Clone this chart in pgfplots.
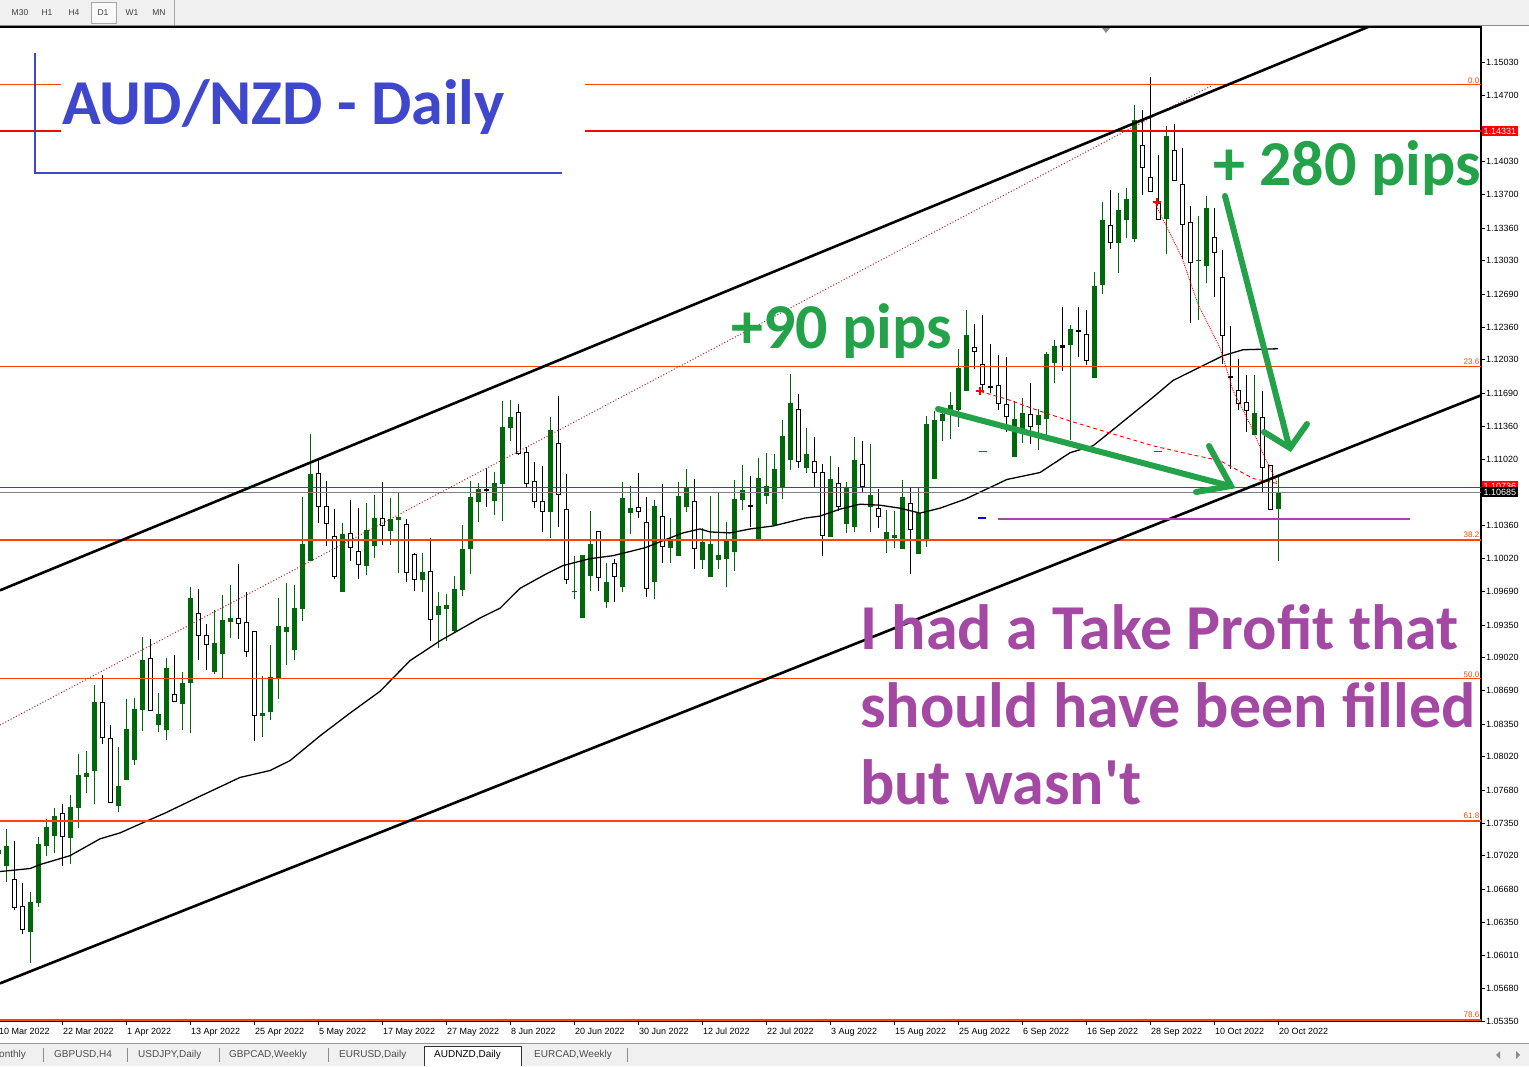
\documentclass[border=0pt]{standalone}
\usepackage{fontspec}
\setmainfont{Liberation Sans}
\newfontfamily\calibri{Carlito}
\usepackage{pgfplots}
\usepackage{pgfplotstable}
\pgfplotsset{compat=1.18}
\definecolor{cgreen}{RGB}{0,104,10}
\definecolor{fibc}{RGB}{255,69,0}
\definecolor{annGreen}{RGB}{36,162,74}
\definecolor{annPurple}{RGB}{163,73,164}
\definecolor{titleBlue}{RGB}{63,72,204}
\definecolor{tbgray}{RGB}{240,240,240}
\definecolor{fibdot}{RGB}{178,34,34}

\pgfplotstableread{
x o h l c
0 1.0704 1.0722 1.0697 1.0708
1 1.0692 1.0729 1.0675 1.0712
2 1.0678 1.0717 1.0647 1.0650
3 1.0651 1.0674 1.0623 1.0627
4 1.0625 1.0665 1.0594 1.0655
5 1.0654 1.0721 1.0650 1.0714
6 1.0712 1.0739 1.0702 1.0731
7 1.0722 1.0750 1.0705 1.0742
8 1.0745 1.0754 1.0692 1.0721
9 1.0720 1.0763 1.0694 1.0751
10 1.0750 1.0805 1.0730 1.0783
11 1.0781 1.0808 1.0765 1.0786
12 1.0788 1.0874 1.0754 1.0857
13 1.0857 1.0884 1.0815 1.0821
14 1.0820 1.0834 1.0755 1.0756
15 1.0752 1.0812 1.0746 1.0772
16 1.0778 1.0860 1.0778 1.0830
17 1.0799 1.0861 1.0794 1.0850
18 1.0849 1.0923 1.0828 1.0900
19 1.0901 1.0921 1.0848 1.0849
20 1.0834 1.0866 1.0827 1.0845
21 1.0829 1.0902 1.0819 1.0892
22 1.0865 1.0905 1.0857 1.0858
23 1.0855 1.0888 1.0829 1.0876
24 1.0876 1.0973 1.0826 1.0962
25 1.0947 1.0971 1.0900 1.0924
26 1.0924 1.0936 1.0890 1.0915
27 1.0888 1.0950 1.0886 1.0917
28 1.0906 1.0965 1.0881 1.0940
29 1.0938 1.0975 1.0922 1.0942
30 1.0942 1.0997 1.0921 1.0937
31 1.0938 1.0968 1.0903 1.0908
32 1.0928 1.0929 1.0818 1.0844
33 1.0843 1.0883 1.0822 1.0846
34 1.0847 1.0915 1.0839 1.0882
35 1.0881 1.0962 1.0860 1.0934
36 1.0928 1.0977 1.0895 1.0933
37 1.0910 1.0975 1.0900 1.0952
38 1.0951 1.1064 1.0939 1.1017
39 1.1000 1.1128 1.1000 1.1088
40 1.1088 1.1102 1.1038 1.1055
41 1.1055 1.1080 1.1015 1.1038
42 1.1024 1.1052 1.0981 1.0984
43 1.0968 1.1038 1.0968 1.1027
44 1.1027 1.1061 1.1000 1.1013
45 1.1009 1.1053 1.0981 1.0996
46 1.0995 1.1058 1.0985 1.1031
47 1.1015 1.1066 1.1003 1.1043
48 1.1043 1.1079 1.1016 1.1035
49 1.1030 1.1063 1.1016 1.1042
50 1.1041 1.1069 1.0988 1.1044
51 1.1037 1.1042 1.0978 1.0988
52 1.1006 1.1008 1.0969 1.0981
53 1.0980 1.1008 1.0968 1.0989
54 1.0989 1.1023 1.0919 1.0941
55 1.0945 1.0968 1.0912 1.0954
56 1.0951 1.0966 1.0919 1.0955
57 1.0929 1.0984 1.0927 1.0971
58 1.0970 1.1036 1.0964 1.1012
59 1.1012 1.1080 1.0987 1.1064
60 1.1059 1.1078 1.1039 1.1072
61 1.1072 1.1094 1.1054 1.1071
62 1.1060 1.1090 1.1046 1.1078
63 1.1077 1.1161 1.1040 1.1135
64 1.1134 1.1162 1.1121 1.1145
65 1.1150 1.1158 1.1107 1.1108
66 1.1109 1.1115 1.1074 1.1078
67 1.1080 1.1100 1.1053 1.1060
68 1.1060 1.1096 1.1029 1.1050
69 1.1049 1.1145 1.1023 1.1132
70 1.1118 1.1166 1.1034 1.1067
71 1.1052 1.1088 1.0976 1.0981
72 1.0968 1.1005 1.0961 1.0969
73 1.0942 1.1006 1.0942 1.1006
74 1.0984 1.1050 1.0969 1.1017
75 1.1029 1.1030 1.0969 1.0983
76 1.0958 1.0998 1.0952 1.0978
77 1.0997 1.1002 1.0958 1.0984
78 1.0973 1.1079 1.0968 1.1063
79 1.1048 1.1075 1.1027 1.1053
80 1.1054 1.1089 1.1043 1.1050
81 1.1039 1.1064 1.0963 1.0972
82 1.0978 1.1061 1.0961 1.1055
83 1.1045 1.1077 1.0998 1.1014
84 1.1013 1.1043 1.0998 1.1020
85 1.1005 1.1079 1.1005 1.1065
86 1.1054 1.1093 1.1049 1.1074
87 1.1060 1.1082 1.0992 1.1012
88 1.1001 1.1033 1.0992 1.1019
89 1.0983 1.1065 1.0983 1.1017
90 1.1001 1.1068 1.0992 1.1006
91 1.1002 1.1039 1.0973 1.1020
92 1.1009 1.1081 1.0990 1.1062
93 1.1061 1.1097 1.1051 1.1071
94 1.1056 1.1085 1.1034 1.1055
95 1.1022 1.1104 1.1022 1.1083
96 1.1065 1.1109 1.1057 1.1075
97 1.1036 1.1108 1.1036 1.1093
98 1.1074 1.1142 1.1062 1.1126
99 1.1102 1.1189 1.1092 1.1159
100 1.1153 1.1168 1.1094 1.1100
101 1.1094 1.1134 1.1089 1.1108
102 1.1100 1.1125 1.1073 1.1089
103 1.1089 1.1098 1.1005 1.1025
104 1.1024 1.1106 1.1024 1.1082
105 1.1078 1.1095 1.1050 1.1055
106 1.1037 1.1079 1.1028 1.1074
107 1.1034 1.1125 1.1029 1.1102
108 1.1097 1.1121 1.1068 1.1075
109 1.1054 1.1118 1.1029 1.1066
110 1.1053 1.1072 1.1033 1.1045
111 1.1020 1.1051 1.1008 1.1029
112 1.1023 1.1050 1.1013 1.1026
113 1.1012 1.1081 1.1012 1.1064
114 1.1058 1.1074 1.0987 1.1031
115 1.1007 1.1074 1.1007 1.1048
116 1.1022 1.1146 1.1014 1.1138
117 1.1082 1.1151 1.1082 1.1142
118 1.1141 1.1155 1.1121 1.1148
119 1.1152 1.1170 1.1123 1.1157
120 1.1152 1.1214 1.1135 1.1195
121 1.1171 1.1253 1.1171 1.1228
122 1.1215 1.1239 1.1194 1.1211
123 1.1198 1.1248 1.1171 1.1178
124 1.1176 1.1219 1.1169 1.1175
125 1.1177 1.1208 1.1152 1.1159
126 1.1158 1.1206 1.1130 1.1146
127 1.1105 1.1161 1.1105 1.1143
128 1.1130 1.1164 1.1119 1.1149
129 1.1148 1.1179 1.1118 1.1135
130 1.1137 1.1153 1.1112 1.1147
131 1.1143 1.1211 1.1121 1.1209
132 1.1200 1.1223 1.1179 1.1217
133 1.1217 1.1256 1.1192 1.1215
134 1.1218 1.1238 1.1122 1.1234
135 1.1232 1.1256 1.1206 1.1231
136 1.1228 1.1253 1.1198 1.1202
137 1.1184 1.1292 1.1184 1.1277
138 1.1278 1.1362 1.1269 1.1344
139 1.1339 1.1374 1.1315 1.1321
140 1.1321 1.1371 1.1291 1.1354
141 1.1344 1.1376 1.1326 1.1365
142 1.1325 1.1460 1.1322 1.1445
143 1.1419 1.1455 1.1369 1.1397
144 1.1387 1.1488 1.1372 1.1373
145 1.1361 1.1410 1.1344 1.1345
146 1.1345 1.1439 1.1310 1.1429
147 1.1414 1.1441 1.1383 1.1384
148 1.1380 1.1417 1.1305 1.1340
149 1.1342 1.1358 1.1240 1.1301
150 1.1303 1.1348 1.1243 1.1304
151 1.1298 1.1368 1.1280 1.1356
152 1.1326 1.1356 1.1266 1.1311
153 1.1286 1.1314 1.1199 1.1227
154 1.1186 1.1237 1.1093 1.1185
155 1.1172 1.1204 1.1152 1.1159
156 1.1160 1.1188 1.1130 1.1152
157 1.1127 1.1188 1.1127 1.1149
158 1.1145 1.1171 1.1069 1.1094
159 1.1096 1.1097 1.1051 1.1052
160 1.1052 1.1086 1.1000 1.1069
}\candles

\pgfplotstableread{
lvl
1.1481
1.1196
1.1021
1.0881
1.0737
1.0536
}\fiblevels

\pgfplotsset{candle/.style={draw=none, mark=none, forget plot}}

\begin{document}
\begin{tikzpicture}
\useasboundingbox (0,0) rectangle (1529pt,-1066pt);
\begin{scope}[x=1pt,y=-1pt]
\fill[white] (0,0) rectangle (1529,1066);
\fill[tbgray] (0,0) rectangle (1529,25);
\draw[black!45, line width=0.8pt] (0,25) -- (1529,25);
\filldraw[fill=white!60!tbgray, draw=black!35] (91,2) rectangle (116,23);
\draw[black!35] (174,0) -- (174,25);
\foreach \t/\xx in {M30/20,H1/47,H4/74,D1/103,W1/132,MN/159}
  \node[font=\fontsize{8.5}{10}\selectfont, text=black!75, inner sep=0pt] at (\xx,13) {\t};
\fill[tbgray] (0,1043) rectangle (1529,1066);
\draw[black!40, line width=0.6pt] (0,1043.5) -- (1529,1043.5);
\end{scope}

\begin{axis}[
  at={(-2pt,-27pt)}, anchor=north west,
  scale only axis, width=1483pt, height=994pt,
  xmin=0, xmax=185.375, ymin=1.0535, ymax=1.1539,
  axis line style={line width=1.2pt, black},
  xtick={0,8,...,160},
  xticklabels={10 Mar 2022,22 Mar 2022,1 Apr 2022,13 Apr 2022,25 Apr 2022,5 May 2022,17 May 2022,27 May 2022,8 Jun 2022,20 Jun 2022,30 Jun 2022,12 Jul 2022,22 Jul 2022,3 Aug 2022,15 Aug 2022,25 Aug 2022,6 Sep 2022,16 Sep 2022,28 Sep 2022,10 Oct 2022,20 Oct 2022},
  ytick={1.1503,1.1470,1.1403,1.1370,1.1336,1.1303,1.1269,1.1236,1.1203,1.1169,1.1136,1.1102,1.1036,1.1002,1.0969,1.0935,1.0902,1.0869,1.0835,1.0802,1.0768,1.0735,1.0702,1.0668,1.0635,1.0601,1.0568,1.0535},
  yticklabels={1.15030,1.14700,1.14030,1.13700,1.13360,1.13030,1.12690,1.12360,1.12030,1.11690,1.11360,1.11020,1.10360,1.10020,1.09690,1.09350,1.09020,1.08690,1.08350,1.08020,1.07680,1.07350,1.07020,1.06680,1.06350,1.06010,1.05680,1.05350},
  xtick pos=bottom, ytick pos=right, yticklabel pos=right,
  tick align=outside, major tick length=4pt,
  tick style={black, line width=0.6pt},
  xticklabel style={font=\fontsize{9}{10}\selectfont, anchor=north west, inner sep=0pt, xshift=1pt, yshift=-3pt},
  yticklabel style={font=\fontsize{9}{10}\selectfont, anchor=west, inner sep=0pt, xshift=1pt},
]
% wicks
\addplot[candle, restrict expr to domain={\thisrow{c}-\thisrow{o}}{0:1},
  error bars/.cd, y dir=plus, y explicit, error mark=none,
  error bar style={line width=1pt, draw=cgreen}]
  table[x=x, y=l, y error plus expr=\thisrow{h}-\thisrow{l}] {\candles};
\addplot[candle, restrict expr to domain={\thisrow{o}-\thisrow{c}}{0.00001:1},
  error bars/.cd, y dir=plus, y explicit, error mark=none,
  error bar style={line width=1pt, draw=black}]
  table[x=x, y=l, y error plus expr=\thisrow{h}-\thisrow{l}] {\candles};
% bull bodies
\addplot[candle, restrict expr to domain={\thisrow{c}-\thisrow{o}}{0:1},
  error bars/.cd, y dir=plus, y explicit, error mark=none,
  error bar style={line width=5pt, draw=cgreen}]
  table[x=x, y=o, y error plus expr=\thisrow{c}-\thisrow{o}] {\candles};
% bear bodies
\addplot[candle, restrict expr to domain={\thisrow{o}-\thisrow{c}}{0.00001:1},
  error bars/.cd, y dir=plus, y explicit, error mark=none,
  error bar style={line width=5pt, draw=black}]
  table[x=x, y expr=\thisrow{c}-0.00005, y error plus expr=\thisrow{o}-\thisrow{c}+0.0001] {\candles};
\addplot[candle, restrict expr to domain={\thisrow{o}-\thisrow{c}}{0.00025:1},
  error bars/.cd, y dir=plus, y explicit, error mark=none,
  error bar style={line width=3pt, draw=white}]
  table[x=x, y expr=\thisrow{c}+0.00005, y error plus expr=\thisrow{o}-\thisrow{c}-0.0001] {\candles};

% moving average
\addplot[black, line width=1.3pt, forget plot] coordinates {
(0.25,1.0686)(4,1.0689)(5.25,1.0693)(9,1.0702)(12.75,1.0719)(15.25,1.0725)(17.75,1.0734)(20.875,1.0745)(25.25,1.0762)(30.25,1.0781)(34,1.0788)(36.5,1.0798)(40.25,1.0823)(44,1.0846)(47.75,1.0868)(51.5,1.0899)(55.25,1.0919)(60.25,1.0942)(62.75,1.0952)(65.25,1.0972)(68.625,1.0987)(70.625,1.0995)(74,1.1002)(76.875,1.1005)(80.875,1.1013)(84,1.1023)(85.625,1.1028)(87.75,1.1032)(89,1.1029)(91.5,1.1028)(94,1.1032)(96.875,1.1035)(100.875,1.1043)(102.75,1.1045)(105.25,1.1052)(107.75,1.1057)(110.25,1.1056)(112.75,1.1053)(115.25,1.1048)(117.75,1.1053)(120.875,1.1062)(126.125,1.1082)(130.25,1.1089)(134,1.1109)(136.875,1.1116)(140.25,1.1138)(144.375,1.1165)(146.875,1.1182)(150.625,1.1197)(153.125,1.1207)(155.625,1.1213)(160,1.1214)};

% fibonacci levels (horizontal segments as flat error bars)
\addplot[candle, error bars/.cd, x dir=plus, x explicit, error mark=none,
  error bar style={line width=1.7pt, draw=fibc}]
  table[x expr=0, y=lvl, x error plus expr=185.375] {\fiblevels};
\addplot[draw=red, line width=2.4pt, forget plot] coordinates {(0,1.1434)(185.375,1.1434)};
\addplot[draw=red, line width=0.8pt, forget plot] coordinates {(0,1.10736)(185.375,1.10736)};
\addplot[draw=black!50, line width=0.8pt, forget plot] coordinates {(0,1.10685)(185.375,1.10685)};

% fib trend line
\addplot[draw=fibdot, line width=1pt, dotted, forget plot] coordinates {(0.25,1.0834)(151.75,1.1480)};
% zigzag style dotted and dashed
\addplot[draw=red, line width=0.9pt, densely dotted, forget plot] coordinates {
(144.625,1.1361)(148,1.1306)(150,1.1259)(152.75,1.1215)(154.375,1.1172)(156.5,1.1138)(158.125,1.1108)(159.875,1.1079)};
\addplot[draw=red, line width=0.9pt, dash pattern=on 4pt off 3pt, forget plot] coordinates {
(122.75,1.1171)(126.125,1.1163)(130.25,1.1151)(134,1.1141)(138.125,1.1131)(144.375,1.1116)(148.625,1.1108)(152.75,1.1101)(156.875,1.1083)(159.875,1.1078)};
\addplot[draw=red, line width=1.3pt, forget plot] coordinates {(122.6,1.1110)(123.6,1.1110)};
\addplot[draw=red, line width=1.3pt, forget plot] coordinates {(144.5,1.1110)(145.5,1.1110)};
\addplot[draw=blue, line width=1.3pt, forget plot] coordinates {(122.5,1.1043)(123.5,1.1043)};

% channel lines
\addplot[draw=black, line width=2.6pt, forget plot] coordinates {(0.25,1.0970)(185.375,1.1586)};
\addplot[draw=black, line width=2.6pt, forget plot] coordinates {(0.25,1.0573)(185.375,1.1167)};

% purple target line
\addplot[draw=annPurple, line width=2.6pt, forget plot] coordinates {(125,1.1042)(176.5,1.1042)};
\end{axis}

\begin{scope}[x=1pt,y=-1pt]
% top marker
\fill[black!45] (1102,28) -- (1110,28) -- (1106,33) -- cycle;
% red stars
\draw[red, line width=1.2pt] (976,391) -- (984,391) (980,387) -- (980,395);
\draw[red, line width=1.2pt] (1153,202) -- (1161,202) (1157,198) -- (1157,206);
% fib labels
\foreach \lab/\yy in {0.0/84,23.6/365,38.2/538,50.0/678,61.8/819,78.6/1018}
  \node[anchor=south east, inner sep=0.5pt, text=fibc, font=\fontsize{8}{9}\selectfont] at (1480,\yy) {\lab};
% title box
\fill[white] (61,57) rectangle (585,168);
\draw[titleBlue, line width=2.5pt] (35,53) -- (35,173) -- (562,173);
\node[anchor=base west, inner sep=0pt, text=titleBlue, font=\calibri\bfseries\fontsize{64}{64}\selectfont] at (62,124) {AUD/NZD - Daily};
% annotations
\node[anchor=base west, inner sep=0pt, text=annGreen, font=\calibri\bfseries\fontsize{64}{64}\selectfont] at (731,348) {+90 pips};
\node[anchor=base west, inner sep=0pt, text=annGreen, font=\calibri\bfseries\fontsize{64}{64}\selectfont] at (1213,185) {+ 280 pips};
\node[anchor=base west, inner sep=0pt, text=annPurple, font=\calibri\bfseries\fontsize{64}{64}\selectfont] at (860,649) {I had a Take Profit that};
\node[anchor=base west, inner sep=0pt, text=annPurple, font=\calibri\bfseries\fontsize{64}{64}\selectfont] at (860,727) {should have been filled};
\node[anchor=base west, inner sep=0pt, text=annPurple, font=\calibri\bfseries\fontsize{64}{64}\selectfont] at (860,804) {but wasn\textquotesingle t};
% arrows
\draw[annGreen, line width=6pt, line cap=round] (938,409) -- (1230,486);
\draw[annGreen, line width=6pt, line cap=round] (1209,446) -- (1231,486) -- (1196,492);
\draw[annGreen, line width=6pt, line cap=round] (1225,196) -- (1289,446);
\draw[annGreen, line width=6pt, line cap=round] (1264,432) -- (1290,448) -- (1307,424);
% price labels
\node[fill=red, text=white, font=\fontsize{9}{10}\selectfont, inner xsep=1.5pt, inner ysep=1.5pt, anchor=west] at (1482,131) {1.14331};
\node[fill=red, text=white, font=\fontsize{9}{10}\selectfont, inner xsep=1.5pt, inner ysep=1.5pt, anchor=west] at (1482,486) {1.10736};
\node[fill=black, text=white, font=\fontsize{9}{10}\selectfont, inner xsep=1.5pt, inner ysep=1.5pt, anchor=west] at (1482,492) {1.10685};
% tabs
\filldraw[fill=white, draw=black!80, line width=0.8pt] (424,1066) -- (424,1046) -- (521,1046) -- (521,1066);
\foreach \xx in {43,127,219,328,627}
  \draw[black!45] (\xx,1048) -- (\xx,1062);
\foreach \t/\xx in {onthly/-1,{GBPUSD,H4}/54,{USDJPY,Daily}/138,{GBPCAD,Weekly}/229,{EURUSD,Daily}/339,{EURCAD,Weekly}/534}
  \node[anchor=west, inner sep=0pt, text=black!70, font=\fontsize{10}{11}\selectfont] at (\xx,1055) {\t};
\node[anchor=west, inner sep=0pt, text=black, font=\fontsize{10}{11}\selectfont] at (434,1055) {AUDNZD,Daily};
\fill[black!45] (1500,1051) -- (1500,1059) -- (1496,1055) -- cycle;
\fill[black!45] (1516,1051) -- (1516,1059) -- (1520,1055) -- cycle;
\end{scope}
\end{tikzpicture}
\end{document}
